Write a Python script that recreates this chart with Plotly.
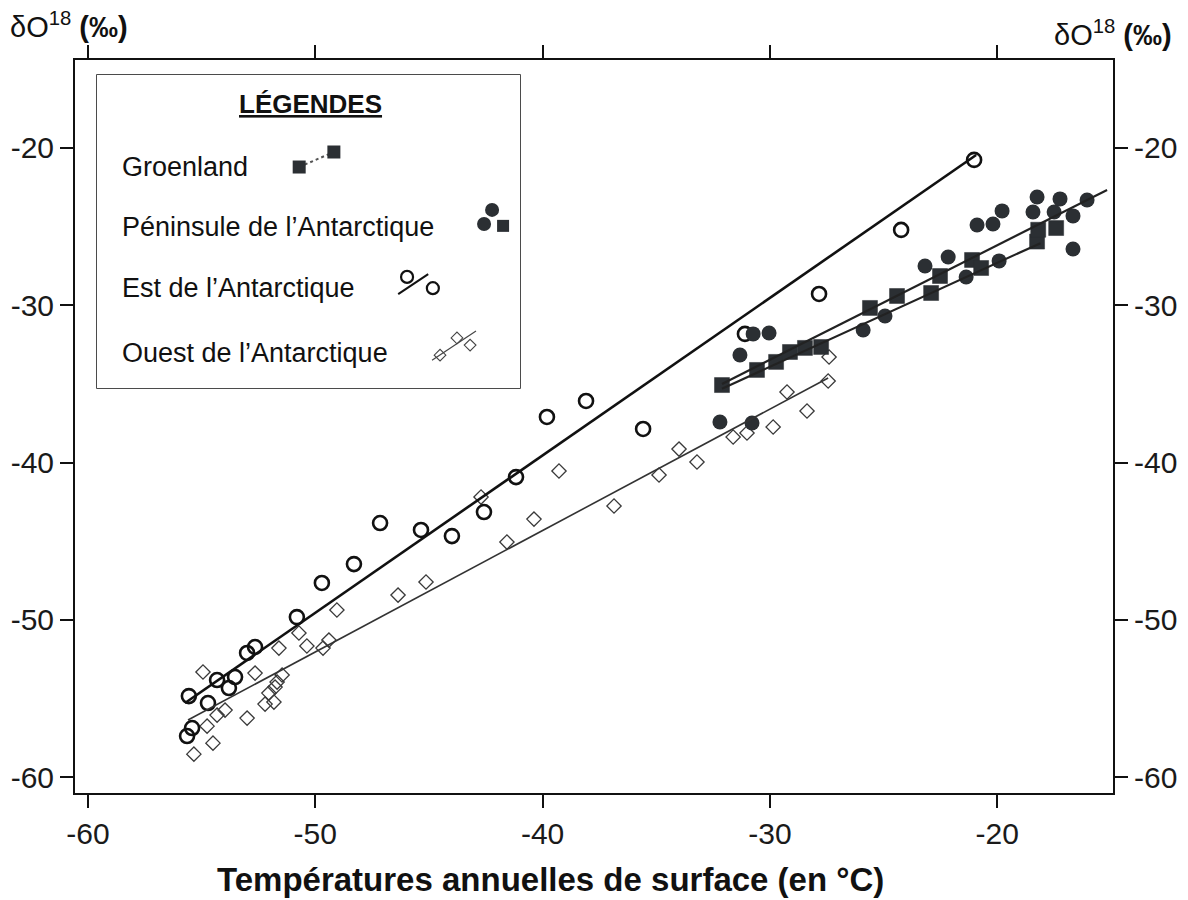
import plotly.graph_objects as go

FONT = "Liberation Sans, Arial, sans-serif"
INK = "#2b2f33"

# ---------------- data ----------------
est_x = [-55.64, -55.42, -54.72, -55.56, -53.80, -54.32, -53.53, -53.00, -52.65, -50.81,
         -49.71, -48.30, -47.15, -45.35, -43.99, -42.58, -41.17, -39.81, -38.09, -35.58,
         -31.10, -27.84, -24.23, -21.02]
est_y = [-57.38, -56.87, -55.28, -54.84, -54.33, -53.82, -53.63, -52.10, -51.72, -49.82,
         -47.65, -46.45, -43.84, -44.28, -44.67, -43.14, -40.92, -37.10, -36.08, -37.86,
         -31.82, -29.28, -25.21, -20.76]

ouest_x = [-55.34, -54.50, -54.76, -54.32, -53.97, -53.00, -54.94, -52.65, -52.21, -51.82,
           -52.04, -51.77, -51.68, -51.46, -51.60, -50.72, -50.37, -49.66, -49.40, -49.05,
           -46.36, -45.13, -42.71, -41.57, -40.38, -39.28, -36.86, -34.88, -34.00, -33.21,
           -31.62, -31.01, -29.86, -29.25, -28.37, -27.44, -27.40]
ouest_y = [-58.53, -57.83, -56.75, -56.05, -55.73, -56.24, -53.31, -53.38, -55.35, -55.22,
           -54.65, -54.27, -53.95, -53.50, -51.79, -50.83, -51.66, -51.79, -51.28, -49.37,
           -48.42, -47.59, -42.19, -45.05, -43.59, -40.53, -42.76, -40.79, -39.14, -39.96,
           -38.37, -38.12, -37.74, -35.51, -36.72, -34.81, -33.29]

groen_x = [-32.11, -30.57, -29.73, -29.12, -28.46, -27.75, -25.60, -24.41, -22.91, -22.52,
           -21.11, -20.71, -18.25, -18.20, -17.41]
groen_y = [-35.07, -34.11, -33.60, -32.97, -32.71, -32.65, -30.17, -29.41, -29.22, -28.14,
           -27.12, -27.63, -25.95, -25.20, -25.09]

penin_x = [-31.32, -30.74, -30.04, -32.20, -30.79, -25.90, -24.94, -23.18, -22.16, -21.37,
           -19.92, -20.89, -20.19, -19.79, -18.43, -18.25, -17.50, -17.24, -16.67, -16.67,
           -16.05]
penin_y = [-33.16, -31.82, -31.76, -37.42, -37.48, -31.57, -30.68, -27.50, -26.93, -28.20,
           -27.18, -24.90, -24.83, -24.00, -24.07, -23.12, -24.07, -23.24, -24.32, -26.42,
           -23.31]

# regression lines (end points)
est_line_x = [-55.73, -20.93]
est_line_y = [-55.28, -20.45]
ouest_line_x = [-55.60, -27.44]
ouest_line_y = [-56.36, -34.62]
penin_line_x = [-32.11, -15.17]
penin_line_y = [-35.00, -22.67]
groen_line_x = [-32.11, -18.10]
groen_line_y = [-35.30, -26.05]

x_ticks = [-60, -50, -40, -30, -20]
y_ticks = [-20, -30, -40, -50, -60]
x_range = [-60.57, -14.91]
y_range = [-61.0, -14.41]

legend_names = ["Groenland", "Péninsule de l’Antarctique", "Est de l’Antarctique",
                "Ouest de l’Antarctique"]
legend_title = "LÉGENDES"
y_title = "δO<sup>18</sup> <b>(‰)</b>"
x_title = "Températures annuelles de surface (en °C)"

# legend glyphs, in coordinates relative to the legend box (0..1)
lg_groen_x = [0.478, 0.560]
lg_groen_y = [0.706, 0.754]
lg_penin_x = [0.934, 0.915]
lg_penin_y = [0.569, 0.524]
lg_penin_sq_x = [0.960]
lg_penin_sq_y = [0.518]
lg_est_x = [0.733, 0.794]
lg_est_y = [0.355, 0.319]
lg_est_line_x = [0.712, 0.783]
lg_est_line_y = [0.300, 0.364]
lg_ouest_x = [0.811, 0.851, 0.882]
lg_ouest_y = [0.105, 0.160, 0.137]
lg_ouest_line_x = [0.792, 0.896]
lg_ouest_line_y = [0.089, 0.182]

# ---------------- figure ----------------
fig = go.Figure()

fig.add_trace(go.Scatter(x=est_line_x, y=est_line_y, mode="lines",
                         line=dict(color="#111", width=2.6), yaxis="y2", showlegend=False))
fig.add_trace(go.Scatter(x=ouest_line_x, y=ouest_line_y, mode="lines",
                         line=dict(color="#333", width=1.6), yaxis="y2", showlegend=False))
fig.add_trace(go.Scatter(x=penin_line_x, y=penin_line_y, mode="lines",
                         line=dict(color="#222", width=2.2), yaxis="y2", showlegend=False))
fig.add_trace(go.Scatter(x=groen_line_x, y=groen_line_y, mode="lines",
                         line=dict(color="#222", width=2.2), yaxis="y2", showlegend=False))

fig.add_trace(go.Scatter(x=ouest_x, y=ouest_y, mode="markers", name=legend_names[3],
                         marker=dict(symbol="diamond-open", size=11, color="#3a3a3a",
                                     line=dict(width=1.3, color="#3a3a3a")), showlegend=False))
fig.add_trace(go.Scatter(x=est_x, y=est_y, mode="markers", name=legend_names[2],
                         marker=dict(symbol="circle-open", size=14, color="#111",
                                     line=dict(width=2.6, color="#111")), showlegend=False))
fig.add_trace(go.Scatter(x=penin_x, y=penin_y, mode="markers", name=legend_names[1],
                         marker=dict(symbol="circle", size=15, color=INK,
                                     line=dict(width=0)), showlegend=False))
fig.add_trace(go.Scatter(x=groen_x, y=groen_y, mode="markers", name=legend_names[0],
                         marker=dict(symbol="square", size=15, color=INK,
                                     line=dict(width=0.5, color=INK)), showlegend=False))

lg = dict(xaxis="x3", yaxis="y3", showlegend=False, hoverinfo="skip")
fig.add_trace(go.Scatter(x=lg_groen_x, y=lg_groen_y, mode="lines+markers",
                         line=dict(color="#555", width=2, dash="dot"),
                         marker=dict(symbol="square", size=13, color=INK), **lg))
fig.add_trace(go.Scatter(x=lg_penin_x, y=lg_penin_y, mode="markers",
                         marker=dict(symbol="circle", size=14, color=INK), **lg))
fig.add_trace(go.Scatter(x=lg_penin_sq_x, y=lg_penin_sq_y, mode="markers",
                         marker=dict(symbol="square", size=12, color=INK), **lg))
fig.add_trace(go.Scatter(x=lg_est_line_x, y=lg_est_line_y, mode="lines",
                         line=dict(color="#111", width=2), **lg))
fig.add_trace(go.Scatter(x=lg_est_x, y=lg_est_y, mode="markers",
                         marker=dict(symbol="circle-open", size=12, color="#111",
                                     line=dict(width=2.2, color="#111")), **lg))
fig.add_trace(go.Scatter(x=lg_ouest_line_x, y=lg_ouest_line_y, mode="lines",
                         line=dict(color="#444", width=1.2), **lg))
fig.add_trace(go.Scatter(x=lg_ouest_x, y=lg_ouest_y, mode="markers",
                         marker=dict(symbol="diamond-open", size=9, color="#444",
                                     line=dict(width=1.1, color="#444")), **lg))

# the page adds an 8 px body margin; size the figure so it ends at the window edge
OFF = 8
W, H = 1188 - OFF, 900 - OFF
L, R, T, B = 75 - OFF, 75, 60 - OFF, 107
pw, ph = W - L - R, H - T - B


def px_x(p):
    return (p - OFF - L) / pw


def px_y(p):
    return (H - B - (p - OFF)) / ph


box_x0, box_x1 = px_x(97), px_x(520)
box_y0, box_y1 = px_y(388), px_y(75)

axis_common = dict(showgrid=False, zeroline=False, ticks="outside", ticklen=13,
                   tickwidth=2, tickcolor="#111", showline=True, linewidth=2,
                   linecolor="#111", automargin=False,
                   tickfont=dict(family=FONT, size=30, color="#1a1a1a"))

fig.update_layout(
    width=W, height=H, autosize=False,
    margin=dict(l=L, r=R, t=T, b=B, pad=0),
    paper_bgcolor="white", plot_bgcolor="white",
    showlegend=False,
    xaxis=dict(range=x_range, tickvals=x_ticks, ticktext=[str(v) for v in x_ticks],
               mirror="ticks", **axis_common),
    yaxis=dict(range=y_range, tickvals=y_ticks, ticktext=[str(v) for v in y_ticks],
               mirror=True, **axis_common),
    yaxis2=dict(range=y_range, tickvals=y_ticks, ticktext=[str(v) for v in y_ticks],
                overlaying="y", side="right", **axis_common),
    xaxis3=dict(domain=[box_x0, box_x1], range=[0, 1], visible=False, fixedrange=True,
                anchor="y3"),
    yaxis3=dict(domain=[box_y0, box_y1], range=[0, 1], visible=False, fixedrange=True,
                anchor="x3"),
    shapes=[dict(type="rect", xref="paper", yref="paper", x0=box_x0, x1=box_x1,
                 y0=box_y0, y1=box_y1, line=dict(color="#111", width=1.5),
                 fillcolor="rgba(0,0,0,0)", layer="below")],
)

ann = []
ann.append(dict(text="<b><u>" + legend_title + "</u></b>", x=px_x(310), y=px_y(104),
                xref="paper", yref="paper", showarrow=False, xanchor="center",
                yanchor="middle", font=dict(family=FONT, size=26, color="#111")))
for name, yy in zip(legend_names, [167, 227, 288, 353]):
    ann.append(dict(text=name, x=px_x(120), y=px_y(yy), xref="paper", yref="paper",
                    showarrow=False, xanchor="left", yanchor="middle",
                    font=dict(family=FONT, size=27, color="#111")))
ann.append(dict(text=y_title, x=px_x(8), y=px_y(25), xref="paper", yref="paper",
                showarrow=False, xanchor="left", yanchor="middle",
                font=dict(family=FONT, size=29, color="#111")))
ann.append(dict(text=y_title, x=px_x(1174), y=px_y(33), xref="paper", yref="paper",
                showarrow=False, xanchor="right", yanchor="middle",
                font=dict(family=FONT, size=29, color="#111")))
ann.append(dict(text="<b>" + x_title + "</b>", x=px_x(550), y=px_y(879), xref="paper",
                yref="paper", showarrow=False, xanchor="center", yanchor="middle",
                font=dict(family=FONT, size=33, color="#111")))
fig.update_layout(annotations=ann)

fig.write_html("out.html")
